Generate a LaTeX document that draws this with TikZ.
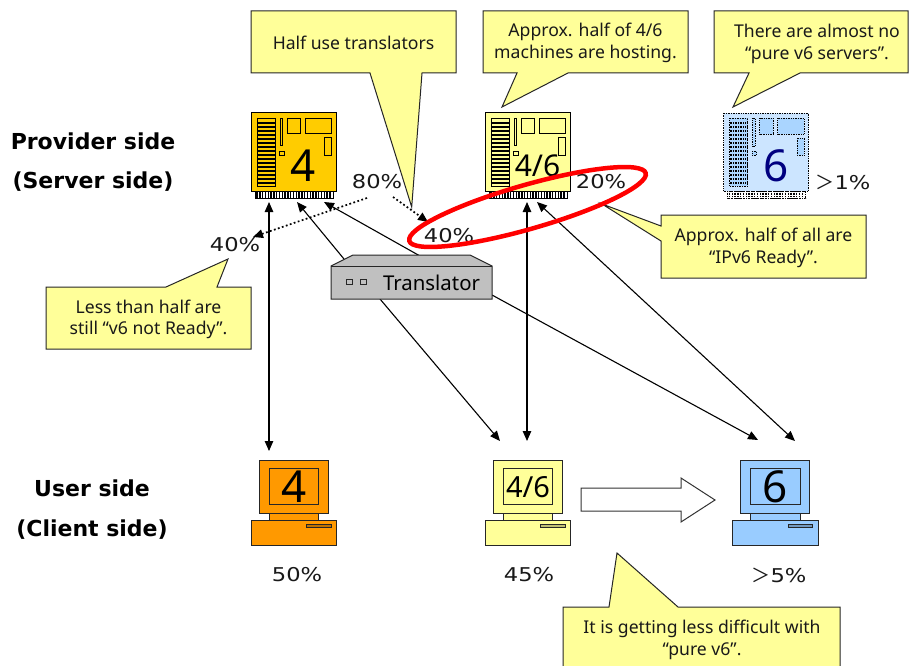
\documentclass[tikz,border=0pt]{standalone}
\usepackage{fontspec}
\setmainfont{Noto Sans}
\newfontfamily\pctfont[FakeStretch=1.19]{DejaVu Sans}
\newfontfamily\sidefont{DejaVu Sans}
\newfontfamily\widefont{Noto Sans CJK JP}
\usetikzlibrary{arrows.meta,shapes.geometric}
\definecolor{noteyellow}{HTML}{FFFF99}
\definecolor{srvorange}{HTML}{FFCC00}
\definecolor{cliorange}{HTML}{FF9900}
\definecolor{srvblue}{HTML}{CCE5FF}
\definecolor{srvblueb}{HTML}{AAD5FF}
\definecolor{cliblue}{HTML}{99CCFF}
\definecolor{boxgrey}{HTML}{C0C0C0}
\tikzset{
  x=1pt,y=-1pt,
  note/.style={draw=black!85,fill=noteyellow,line width=1pt,line join=miter},
  notetext/.style={align=center,font=\fontsize{17.6}{21.6}\selectfont,inner sep=0pt,text=black!90},
  pct/.style={font=\pctfont\fontsize{19}{22}\selectfont,inner sep=0pt,text=black!90},
  sidelabel/.style={font=\sidefont\bfseries\fontsize{22}{39.5}\selectfont,align=center,inner sep=0pt},
  link/.style={draw=black,line width=1.1pt,-{Triangle[length=10pt,width=8.5pt]}},
  linkboth/.style={draw=black,line width=1.1pt,{Triangle[length=10pt,width=8.5pt]}-{Triangle[length=10pt,width=8.5pt]}},
  dotlink/.style={draw=black,line width=1.7pt,dash pattern=on 1.8pt off 2.4pt,-{Triangle[length=10pt,width=8.5pt]}},
  part/.style={line width=1pt},
}
% #1 x offset, #2 name, #3 fill, #4 part fill, #5 line style, #6 label, #7 font size, #8 label colour
\newcommand{\serverunit}[8]{%
\begin{scope}[shift={(#1,0)}]
  \path[draw=black,fill=#3,#5] (251,113) rectangle (336,191);
  \path[draw=black,#5] (255,191) rectangle (333,198);
  \foreach \px in {257,259.8,...,332}{\draw[black,#5,line width=1.4pt] (\px,191) -- (\px,198);}
  \path[draw=black,fill=#4,#5] (257,118.5) rectangle (275,186);
  \foreach \py in {123,127,...,184}{\draw[black,#5,line width=1.4pt] (257,\py) -- (275,\py);}
  \path[draw=black,fill=#4,#5] (280,118.5) rectangle (282.7,146);
  \path[draw=black,fill=#4,#5] (287,118.5) rectangle (300.5,134);
  \path[draw=black,fill=#4,#5] (305,118.5) rectangle (331.5,134);
  \path[draw=black,fill=#4,#5] (324.5,138) rectangle (331.5,155);
  \path[draw=black,fill=#4,#5] (279.5,151.5) rectangle (284,155);
  \node[inner sep=0pt,font=\fontsize{#7}{#7}\selectfont,text=#8] (#2) at (303.5,165.5) {#6};
\end{scope}}
% #1 x offset, #2 name, #3 fill, #4 label, #5 font size
\newcommand{\clientunit}[5]{%
\begin{scope}[shift={(#1,0)}]
  \path[draw=black!85,fill=#3,part] (269,513) rectangle (318.7,520);
  \path[draw=black!85,fill=#3,part] (259,460) rectangle (328.3,513);
  \path[draw=black!85,fill=#3,part] (269,468.7) rectangle (318.7,504.7);
  \path[draw=black!85,fill=#3,part] (251,520.5) rectangle (336.5,545);
  \path[draw=black!85,fill=#3!75!black,part] (306.5,524) rectangle (331,527.5);
  \node[inner sep=0pt,font=\fontsize{#5}{#5}\selectfont] (#2) at (294,487) {#4};
\end{scope}}
\begin{document}
\begin{tikzpicture}
\useasboundingbox (0,0) rectangle (910,666);
\fill[white] (0,0) rectangle (910,666);

% side labels
\node[sidelabel] (provider) at (93,162) {Provider side\\(Server side)};
\node[sidelabel] (user) at (92,509.5) {User side\\(Client side)};

% servers
\serverunit{0}{srvfour}{srvorange}{srvorange}{part}{4}{44}{black}
\serverunit{234}{srvboth}{noteyellow}{noteyellow}{part}{4/6}{30}{black}
\serverunit{472.5}{srvsix}{srvblue}{srvblueb}{line width=0.7pt,densely dotted}{6}{44}{blue!50!black}

% clients
\clientunit{0}{clifour}{cliorange}{4}{44}
\clientunit{234}{cliboth}{noteyellow}{4/6}{29}
\clientunit{481.5}{clisix}{cliblue}{6}{44}

% connector end points
\coordinate (s4a) at (269,202);
\coordinate (s4b) at (297,202);
\coordinate (s4c) at (324,202);
\coordinate (s46a) at (527,202);
\coordinate (s46b) at (537,202);
\coordinate (c4a) at (269,451);
\coordinate (c46a) at (500,441);
\coordinate (c46b) at (527,441);
\coordinate (c6a) at (758,440);
\coordinate (c6b) at (795,441);
\coordinate (tl) at (344,259);
\coordinate (tt) at (420,256);
\coordinate (tb) at (380,299);
\coordinate (tr) at (492,295);

% connectors
\draw[linkboth] (s4a) -- (c4a);
\draw[linkboth] (s46a) -- (c46b);
\draw[linkboth] (s46b) -- (c6b);
\draw[link] (tl) -- (s4b);
\draw[link] (tt) -- (s4c);
\draw[link] (tb) -- (c46a);
\draw[link] (tr) -- (c6a);

% translator
\path[draw=black!85,fill=boxgrey,part,line join=miter] (331,266) -- (353,255) -- (470,255) -- (492,266) -- (492,299) -- (331,299) -- cycle;
\draw[black!85,part] (331,266) -- (492,266);
\draw[black!85,fill=boxgrey,line width=0.8pt] (346,279) rectangle (352,284.5);
\draw[black!85,fill=boxgrey,line width=0.8pt] (360,279) rectangle (366,284.5);
\node[inner sep=0pt,font=\fontsize{20.4}{24}\selectfont] (translator) at (431.5,282.5) {Translator};

% big arrow
\path[draw=black!80,fill=white,line width=1pt,line join=miter] (581,488) -- (681,488) -- (681,478) -- (715,500) -- (681,522) -- (681,511) -- (581,511) -- cycle;

% notes
\path[note] (251,11) -- (456,11) -- (456,73) -- (422,73) -- (411.7,207) -- (370,73) -- (251,73) -- cycle;
\node[notetext] (noteA) at (353.5,43) {Half use translators};
\path[note] (483,11) -- (688,11) -- (688,73) -- (568,73) -- (502,107) -- (517,73) -- (483,73) -- cycle;
\node[notetext] (noteB) at (585.5,43) {Approx. half of 4/6\\machines are hosting.};
\path[note] (714,11) -- (908,11) -- (908,73) -- (800,73) -- (733,107) -- (749,73) -- (714,73) -- cycle;
\node[notetext] (noteC) at (817,44) {There are almost no\\“pure v6 servers”.};
\path[note] (661,215) -- (866,215) -- (866,278) -- (661,278) -- (661,241) -- (602,204) -- (661,226) -- cycle;
\node[notetext] (noteD) at (763.5,248) {Approx. half of all are\\“IPv6 Ready”.};
\path[note] (46,287) -- (166,287) -- (228,259) -- (217,287) -- (251,287) -- (251,349) -- (46,349) -- cycle;
\node[notetext] (noteE) at (148.5,319.5) {Less than half are\\still “v6 not Ready”.};
\path[note] (563,607) -- (609,607) -- (617,553) -- (678,607) -- (840,607) -- (840,667) -- (563,667) -- cycle;
\node[notetext] (noteF) at (702,640) {It is getting less difficult with\\“pure v6”.};

% dotted connectors
\coordinate (d0) at (367,198);
\coordinate (d1) at (253,237);
\coordinate (d2) at (393,197);
\coordinate (d3) at (428,222);
\draw[dotlink] (d0) -- (d1);
\draw[dotlink] (d2) -- (d3);

% percentages
\node[pct] (p80) at (377,182) {80\%};
\node[pct] (p40a) at (235,245) {40\%};
\node[pct] (p40b) at (449,236) {40\%};
\node[pct] (p20) at (601,182) {20\%};
\node[pct] (p1) at (843,182) {{\widefont ＞}1\%};
\node[pct] (p50) at (297,575) {50\%};
\node[pct] (p45) at (529,575) {45\%};
\node[pct] (p5) at (779,575) {{\widefont ＞}5\%};

% red ring
\node[draw=red,line width=4.5pt,ellipse,minimum width=246pt,minimum height=44pt,inner sep=0pt,rotate=16] (ring) at (527.5,207) {};
\end{tikzpicture}
\end{document}
